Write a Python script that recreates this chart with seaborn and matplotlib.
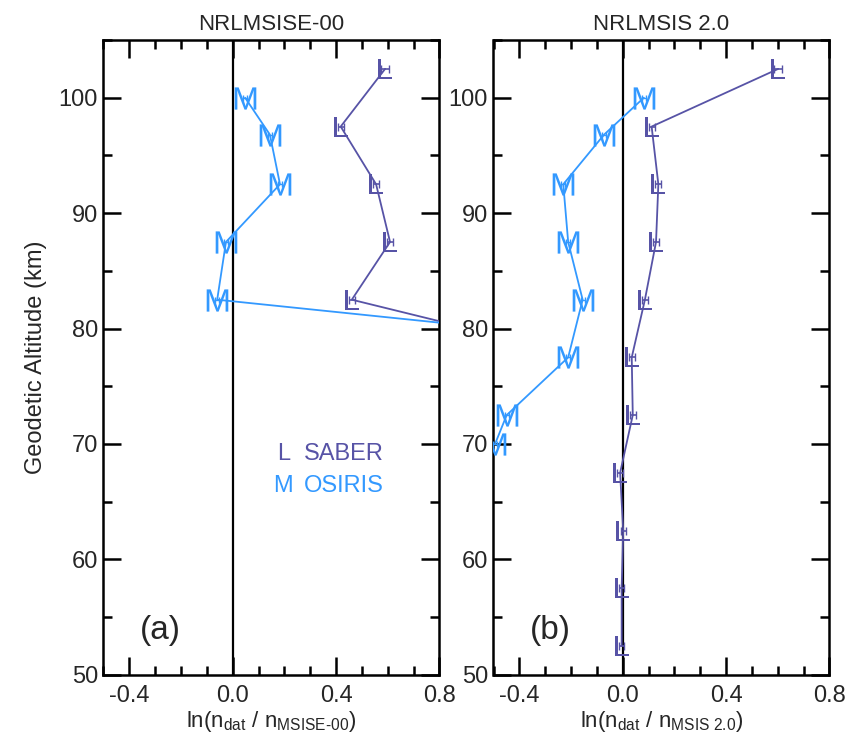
import numpy as np
import pandas as pd
import matplotlib
matplotlib.use("Agg")
import matplotlib.pyplot as plt
import seaborn as sns
from matplotlib.ticker import MultipleLocator

# ---- data ----
saber_alt = [102.5, 97.5, 92.5, 87.5, 82.5, 77.5, 72.5, 67.5, 62.5, 57.5, 52.5]
saber_msise00 = [0.59, 0.418, 0.555, 0.609, 0.461, 1.37]
saber_msis20 = [0.602, 0.112, 0.138, 0.129, 0.086, 0.035, 0.039, -0.010, 0.002, -0.004, -0.004]
saber_err = [0.015, 0.012, 0.012, 0.012, 0.012, 0.012, 0.012, 0.012, 0.01, 0.01, 0.01]

osiris_alt = [100.0, 96.8, 92.5, 87.5, 82.5, 77.5, 72.5, 70.0]
osiris_msise00 = [0.048, 0.144, 0.183, -0.026, -0.060, 2.1]
osiris_msis20 = [0.082, -0.072, -0.230, -0.211, -0.155, -0.211, -0.449, -0.494]
osiris_err = [0.008] * 8

titles = ["NRLMSISE-00", "NRLMSIS 2.0"]
panel_tags = ["(a)", "(b)"]
xlabels = [r"ln(n$_{\mathregular{dat}}$ / n$_{\mathregular{\text{MSISE-00}}}$)",
           r"ln(n$_{\mathregular{dat}}$ / n$_{\mathregular{\text{MSIS 2.0}}}$)"]
legend_names = ["SABER", "OSIRIS"]
legend_syms = ["L", "M"]

C_SABER = "#5753A6"
C_OSIRIS = "#3399FF"

sns.set_style("ticks")
plt.rcParams["font.family"] = ["Liberation Sans", "DejaVu Sans"]
plt.rcParams["mathtext.fontset"] = "custom"
plt.rcParams["mathtext.rm"] = "Liberation Sans"
plt.rcParams["mathtext.sf"] = "Liberation Sans"
plt.rcParams["mathtext.it"] = "Liberation Sans:italic"

fig = plt.figure(figsize=(8.54, 7.42), dpi=100)
W, H = 854, 742
bottom = 1 - 674.8 / H
height = (674.8 - 40) / H
axa = fig.add_axes([103.5 / W, bottom, 335.9 / W, height])
axb = fig.add_axes([493.5 / W, bottom, 335.9 / W, height])

sets = [
    (axa, saber_msise00, osiris_msise00),
    (axb, saber_msis20, osiris_msis20),
]

for i, (ax, sx, ox) in enumerate(sets):
    ax.axvline(0, color="black", lw=1.6, zorder=1)
    s_df = pd.DataFrame({"x": sx, "y": saber_alt[:len(sx)]})
    o_df = pd.DataFrame({"x": ox, "y": osiris_alt[:len(ox)]})
    sns.lineplot(data=s_df, x="x", y="y", sort=False, orient="y", ax=ax,
                 color=C_SABER, lw=1.3, marker=r"$\mathsf{L}$", markersize=15,
                 markeredgewidth=0, markeredgecolor=C_SABER,
                 markerfacecolor=C_SABER, zorder=3)
    sns.lineplot(data=o_df, x="x", y="y", sort=False, orient="y", ax=ax,
                 color=C_OSIRIS, lw=1.3, marker=r"$\mathsf{M}$", markersize=16,
                 markeredgewidth=0, markeredgecolor=C_OSIRIS,
                 markerfacecolor=C_OSIRIS, zorder=3)
    ax.errorbar(sx, saber_alt[:len(sx)], xerr=saber_err[:len(sx)], fmt="none",
                ecolor=C_SABER, elinewidth=1.2, capsize=3, zorder=4)
    ax.errorbar(ox, osiris_alt[:len(ox)], xerr=osiris_err[:len(ox)], fmt="none",
                ecolor=C_OSIRIS, elinewidth=1.0, capsize=2, zorder=4)

    ax.set_xlim(-0.5, 0.8)
    ax.set_ylim(50, 105)
    ax.xaxis.set_major_locator(MultipleLocator(0.4))
    ax.xaxis.set_minor_locator(MultipleLocator(0.1))
    ax.yaxis.set_major_locator(MultipleLocator(10))
    ax.yaxis.set_minor_locator(MultipleLocator(5))
    ax.set_xticks([-0.4, 0.0, 0.4, 0.8])
    ax.set_xticklabels(["-0.4", "0.0", "0.4", "0.8"])
    ax.tick_params(which="both", direction="in", top=True, right=True,
                   bottom=True, left=True, color="black", width=1.8)
    ax.tick_params(which="major", length=13, labelsize=17)
    ax.tick_params(axis="x", which="major", pad=7)
    ax.tick_params(axis="y", which="major", pad=4)
    ax.tick_params(which="minor", length=6.5)
    for sp in ax.spines.values():
        sp.set_linewidth(1.8)
        sp.set_color("black")
    ax.set_title(titles[i], fontsize=16, pad=7)
    ax.set_xlabel(xlabels[i], fontsize=16, labelpad=2)
    ax.set_ylabel("")
    ax.text(0.17, 0.07, panel_tags[i], transform=ax.transAxes, fontsize=24,
            ha="center", va="center")

axa.set_ylabel("Geodetic Altitude (km)", fontsize=17, labelpad=8)

# legend text in panel a
for j, (sym, name, col) in enumerate(zip(legend_syms, legend_names, [C_SABER, C_OSIRIS])):
    yy = 0.348 - j * 0.05
    axa.text(0.535, yy, sym, transform=axa.transAxes, color=col, fontsize=17,
             ha="center", va="center")
    axa.text(0.598, yy, name, transform=axa.transAxes, color=col, fontsize=17,
             ha="left", va="center")

fig.savefig("out.png", dpi=100)
